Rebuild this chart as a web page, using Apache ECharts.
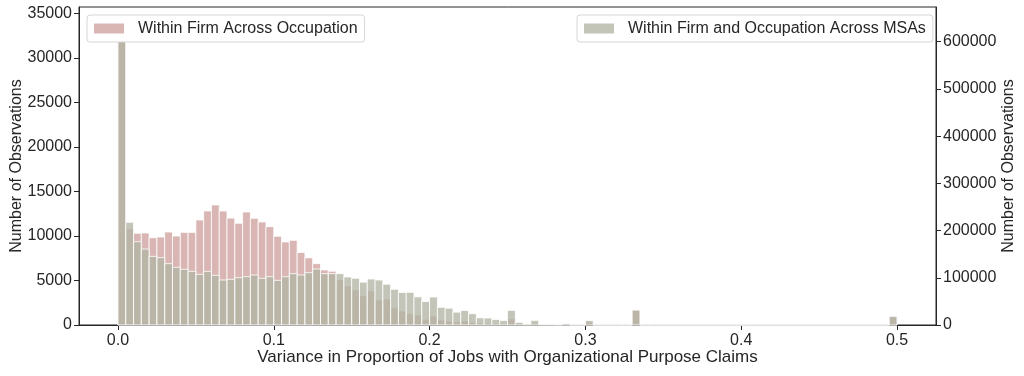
<!DOCTYPE html>
<html>
<head>
<meta charset="utf-8">
<script src="https://cdn.jsdelivr.net/npm/echarts@6/dist/echarts.min.js"></script>
<style>
html, body {margin: 0; padding: 0; background: #fff;}
#main {width: 1024px; height: 376px;}
</style>
</head>
<body>
<div id="main"></div>
<script>
// histogram bins: 0.005 wide, from 0.0 to 0.5
const binWidth = 0.005;

// Within Firm Across Occupation (left axis)
const occCounts = [
    33950, 10800, 10300, 10330, 9800, 9880, 10440, 9990, 10400, 10400,
    11790, 12800, 13480, 12800, 12000, 11420, 12690, 11980, 11570, 11040,
    9960, 9320, 9510, 8150, 7540, 6890, 6180, 6040, 5100, 4380,
    3930, 3290, 3820, 2810, 2920, 1940, 1570, 1310, 1120, 640,
    1010, 560, 450, 370, 450, 300, 220, 200, 150, 120,
    700, 80, 40, 200, 30, 30, 20, 40, 10, 10,
    300, 0, 0, 0, 0, 0, 1700, 0, 0, 0,
    0, 0, 0, 0, 0, 0, 0, 0, 0, 0,
    0, 0, 0, 0, 0, 0, 0, 0, 0, 0,
    0, 0, 0, 0, 0, 0, 0, 0, 0, 900
];

// Within Firm and Occupation Across MSAs (right axis)
const msaCounts = [
    640000, 217500, 176400, 160900, 145400, 142600, 129900, 122100, 117900, 113600,
    107300, 113600, 105200, 95300, 96700, 100200, 102300, 105900, 98900, 102300,
    94600, 102300, 108700, 105900, 110800, 118600, 108700, 108700, 108700, 101700,
    99000, 90800, 97400, 95300, 86400, 75600, 68800, 69200, 59600, 49800,
    59300, 37500, 35600, 27200, 30700, 23900, 15200, 14800, 11600, 9600,
    31100, 5700, 2100, 9900, 1400, 1400, 700, 2800, 300, 300,
    9500, 200, 100, 100, 100, 100, 31400, 0, 0, 0,
    0, 0, 0, 0, 0, 0, 0, 0, 0, 0,
    0, 0, 0, 0, 0, 0, 0, 0, 0, 0,
    0, 0, 0, 0, 0, 0, 0, 0, 0, 18400
];

const xTicks = [0, 0.1, 0.2, 0.3, 0.4, 0.5];
const leftTicks = [0, 5000, 10000, 15000, 20000, 25000, 30000, 35000];
const rightTicks = [0, 100000, 200000, 300000, 400000, 500000, 600000];

const occName = 'Within Firm Across Occupation';
const msaName = 'Within Firm and Occupation Across MSAs';
const occColor = 'rgba(204,158,155,0.75)';
const msaColor = 'rgba(178,181,164,0.78)';

const FONT = '"Liberation Sans", Arial, sans-serif';
const INK = '#262626';

function toBins(counts){
    let out = [];
    for (let i = 0; i < counts.length; i++){
        out.push([i * binWidth, (i + 1) * binWidth, counts[i]]);
    }
    return out;
}

function histItem(params, api){
    let p0 = api.coord([api.value(0), 0]);
    let p1 = api.coord([api.value(1), api.value(2)]);
    return {
        type: 'rect',
        shape: {x: p0[0], y: p1[1], width: p1[0] - p0[0], height: p0[1] - p1[1]},
        style: {fill: api.visual('color'), stroke: '#ffffff', lineWidth: 0.8}
    };
}

function yAxisFor(ticks, max, pos, gap){
    return {
        type: 'value',
        position: pos,
        min: 0,
        max: max,
        name: 'Number of Observations',
        nameLocation: 'middle',
        nameRotate: 90,
        nameGap: gap,
        nameMoveOverlap: false,
        nameTextStyle: {fontFamily: FONT, fontSize: 16, color: INK},
        splitLine: {show: false},
        axisLine: {show: true, onZero: false, lineStyle: {color: INK, width: 1}},
        axisTick: {show: true, length: 5, customValues: ticks, lineStyle: {color: INK}},
        axisLabel: {
            customValues: ticks, fontFamily: FONT, fontSize: 16, color: INK, margin: 7,
            formatter: v => String(v)
        }
    };
}

function legendFor(name, left){
    return {
        data: [name],
        left: left,
        top: 15,
        icon: 'rect',
        itemWidth: 30,
        itemHeight: 10,
        padding: [4, 7, 4, 7],
        backgroundColor: '#ffffff',
        borderColor: '#d6d6d6',
        borderWidth: 1,
        borderRadius: 3,
        selectedMode: false,
        textStyle: {fontFamily: FONT, fontSize: 16, color: INK, lineHeight: 19, padding: [0, 0, 0, 9]}
    };
}

let option = {
    animation: false,
    backgroundColor: '#ffffff',
    grid: {
        left: 79, right: 88, top: 7, bottom: 51,
        containLabel: false, outerBoundsMode: 'none',
        show: true, borderColor: INK, borderWidth: 1
    },
    legend: [legendFor(occName, 87), legendFor(msaName, 577)],
    xAxis: {
        type: 'value',
        min: -0.025,
        max: 0.525,
        name: 'Variance in Proportion of Jobs with Organizational Purpose Claims',
        nameLocation: 'middle',
        nameGap: 24,
        nameMoveOverlap: false,
        nameTextStyle: {fontFamily: FONT, fontSize: 17, color: INK, verticalAlign: 'top'},
        splitLine: {show: false},
        axisLine: {show: true, onZero: false, lineStyle: {color: INK, width: 1}},
        axisTick: {show: true, length: 5, customValues: xTicks, lineStyle: {color: INK}},
        axisLabel: {
            customValues: xTicks,
            fontFamily: FONT, fontSize: 16, color: INK, margin: 8,
            formatter: v => v.toFixed(1)
        }
    },
    yAxis: [
        yAxisFor(leftTicks, 35700, 'left', 54),
        yAxisFor(rightTicks, 673500, 'right', 65)
    ],
    series: [
        {
            name: occName,
            type: 'custom',
            yAxisIndex: 0,
            renderItem: histItem,
            itemStyle: {color: occColor},
            encode: {x: [0, 1], y: 2},
            data: toBins(occCounts)
        },
        {
            name: msaName,
            type: 'custom',
            yAxisIndex: 1,
            renderItem: histItem,
            itemStyle: {color: msaColor},
            encode: {x: [0, 1], y: 2},
            data: toBins(msaCounts)
        }
    ]
};

let chart = echarts.init(document.getElementById('main'), null, {renderer: 'canvas'});
chart.setOption(option);
</script>
</body>
</html>
